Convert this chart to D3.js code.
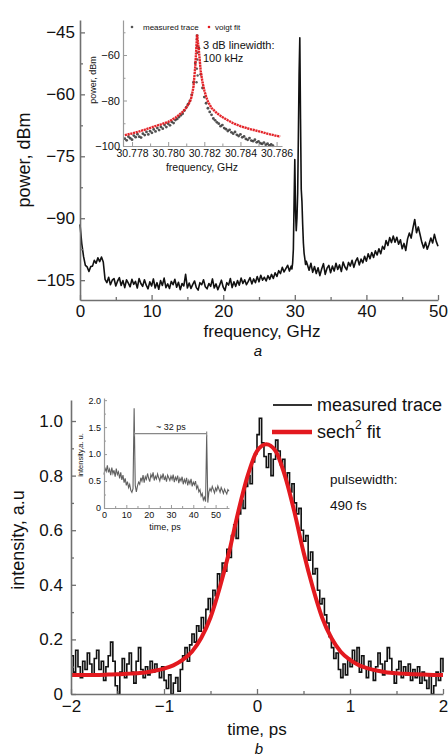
<!DOCTYPE html>
<html><head><meta charset="utf-8">
<script src="https://cdn.jsdelivr.net/npm/d3@7"></script>
<style>body{margin:0;background:#fff}svg{display:block;font-family:"Liberation Sans",Arial,sans-serif}</style>
</head><body><svg id="c" width="448" height="756"></svg>
<script>
// ---------- panel a: RF spectrum ----------
const specStep = 0.25;
const specLowStart = 0;
const specLow = [
 -91.5,-96.2,-99.3,-101.4,-101.8,-102.9,-101.7,-101.6,
 -100.2,-100.9,-99.6,-100.5,-99.4,-100.6,-104.8,-105.6,
 -104.3,-106.1,-105.0,-104.6,-106.4,-105.2,-104.4,-106.3,
 -105.1,-106.8,-104.9,-105.7,-106.6,-104.8,-106.0,-105.3,
 -106.9,-104.6,-105.8,-106.5,-104.9,-106.2,-107.1,-105.4,
 -106.4,-104.7,-106.9,-105.6,-107.2,-105.1,-106.3,-104.5,
 -106.8,-105.9,-107.0,-105.3,-106.1,-104.8,-106.7,-105.5,
 -107.3,-105.8,-106.4,-103.6,-106.9,-105.7,-107.0,-106.0,
 -105.2,-106.8,-107.4,-105.6,-106.1,-104.9,-106.6,-107.1,
 -105.8,-106.5,-104.7,-106.9,-105.9,-107.3,-106.2,-105.0,
 -106.7,-107.5,-105.6,-106.2,-104.6,-106.8,-105.4,-106.5,
 -105.1,-106.2,-104.5,-105.8,-104.9,-106.1,-105.3,-104.4,
 -105.9,-104.7,-105.6,-104.1,-105.4,-103.8,-105.0,-104.3,
 -105.2,-103.9,-104.8,-103.6,-104.6,-103.2,-104.1,-102.7,
 -103.4,-101.9,-103.0,-102.2,-101.4,-102.8,-101.6];
const specPeakFreq = [29.6,29.7,29.8,29.9,30.0,30.1,30.2,30.3,30.4,30.5,30.6,30.7,30.8,30.9,31.0,31.1,31.2,31.3,31.4,31.5,31.6];
const specPeakPow  = [-102.3,-100.8,-97.5,-86,-75.8,-88,-93,-90,-84,-70,-55,-46.3,-66,-83,-86,-91.5,-96,-98.5,-99.8,-101.2,-100.4];
const specHighStart = 31.75;
const specHigh = [
 -101.2,-102.6,-100.9,-103.1,-101.7,-103.4,-102.0,-103.9,
 -102.3,-101.0,-103.6,-102.1,-101.4,-103.2,-101.6,-102.8,
 -100.9,-102.4,-101.3,-102.9,-100.6,-101.8,-102.5,-100.7,
 -101.6,-100.2,-101.9,-100.4,-99.6,-101.3,-99.9,-100.8,
 -99.2,-100.4,-98.6,-99.8,-98.3,-99.5,-97.9,-98.9,
 -97.4,-98.6,-96.8,-97.5,-95.4,-96.6,-94.7,-95.9,
 -94.3,-95.8,-94.6,-96.3,-95.2,-97.4,-96.1,-97.8,
 -95.0,-93.6,-94.8,-92.4,-90.3,-93.5,-92.1,-94.0,
 -95.9,-97.2,-95.8,-97.5,-96.3,-94.8,-96.0,-93.9,
 -95.6,-96.8];
const aXTicks = [0,10,20,30,40,50];
const aXMinor = [5,15,25,35,45];
const aYTicks = [-45,-60,-75,-90,-105];
const aYMinor = [-52.5,-67.5,-82.5,-97.5];

// inset a: zoom on the 30.78 GHz line
const insStart = 30.7776, insStep = 0.0001;
const insMeas = [
 -96.8,-97.5,-95.9,-96.6,-97.2,-95.4,-96.1,-94.8,-95.9,-96.3,
 -94.6,-95.2,-93.8,-94.9,-93.5,-94.2,-92.7,-93.6,-92.1,-93.0,
 -91.6,-92.4,-90.8,-91.7,-90.2,-90.9,-89.4,-89.9,-88.6,-88.1,
 -87.3,-86.5,-85.8,-84.4,-83.0,-81.6,-80.2,-77.5,-72.0,-63.5,
 -51.5,
 -57.0,-68.5,-74.5,-78.5,-81.2,-83.4,-85.0,-86.3,-87.9,-88.7,
 -89.6,-90.2,-91.3,-90.8,-92.1,-92.6,-93.4,-92.9,-94.0,-94.6,
 -93.8,-95.1,-95.6,-94.9,-96.2,-95.8,-96.9,-97.3,-96.5,-97.6,
 -97.9,-97.2,-98.4,-98.0,-98.8,-99.1,-98.5,-99.4,-99.0,-99.7,
 -99.3,-99.9];
const insPeakFreq = [30.78158,30.78160,30.78162,30.78161,30.78159,30.78163,30.78157];
const insPeakPow  = [-53,-56,-59,-62,-66,-69,-72];
const fitFreq = [30.7776,30.7780,30.7784,30.7788,30.7792,30.7796,30.7800,30.7804,30.7808,30.7810,30.7812,30.7813,30.7814,30.7815,30.7816,30.7817,30.7818,30.7819,30.7820,30.7821,30.7822,30.7824,30.7827,30.7830,30.7833,30.7836,30.7840,30.7845,30.7851,30.7856,30.7862];
const fitPow  = [-95.2,-94.5,-93.6,-92.6,-91.5,-90.5,-89.4,-87.6,-85.0,-83.2,-80.6,-78.3,-74.0,-65.0,-51.0,-58.0,-67.0,-72.0,-75.5,-78.3,-80.5,-83.3,-85.6,-87.3,-88.7,-90.0,-91.3,-92.5,-93.7,-94.8,-95.9];
const insXTicks = [30.778,30.780,30.782,30.784,30.786];
const insXMinor = [30.779,30.781,30.783,30.785];
const insYTicks = [-60,-80,-100];
const insYMinor = [-50,-70,-90];

// ---------- panel b: autocorrelation ----------
const acStart = -2, acStep = 0.025;
const acMeas = [
 0.14,0.08,0.16,0.10,0.06,0.12,0.09,0.15,
 0.11,0.07,0.13,0.16,0.09,0.12,0.05,0.10,
 0.14,0.19,0.12,0.03,0.00,0.08,0.13,0.06,
 0.11,0.15,0.08,0.04,0.12,0.17,0.09,0.06,
 0.10,0.07,0.12,0.08,0.11,0.09,0.06,0.10,
 0.05,0.02,0.07,0.00,0.04,0.06,0.01,0.09,
 0.14,0.17,0.12,0.18,0.22,0.19,0.25,0.23,
 0.28,0.24,0.31,0.35,0.30,0.38,0.36,0.44,
 0.41,0.48,0.45,0.53,0.50,0.58,0.62,0.57,
 0.66,0.71,0.68,0.76,0.80,0.77,0.85,0.88,
 0.95,1.01,0.92,0.87,0.83,0.88,0.80,0.86,
 0.93,0.89,0.84,0.86,0.79,0.81,0.74,0.77,
 0.70,0.66,0.68,0.60,0.56,0.58,0.49,0.52,
 0.44,0.46,0.38,0.33,0.35,0.29,0.26,0.21,
 0.17,0.13,0.15,0.09,0.06,0.11,0.07,0.13,
 0.10,0.16,0.12,0.17,0.08,0.14,0.10,0.06,
 0.12,0.09,0.05,0.10,0.15,0.11,0.07,0.12,
 0.17,0.13,0.08,0.04,0.09,0.12,0.06,0.10,
 0.07,0.11,0.05,0.09,0.06,0.10,0.04,0.08,
 0.05,0.02,0.07,0.00,0.03,0.08,0.05,0.13,
 0.08];
const fitT = [-2.0,-1.9,-1.8,-1.7,-1.6,-1.5,-1.4,-1.3,-1.2,-1.1,-1.0,-0.9,-0.8,-0.7,-0.6,-0.5,-0.4,-0.3,-0.2,-0.1,0.0,0.1,0.2,0.3,0.4,0.5,0.6,0.7,0.8,0.9,1.0,1.1,1.2,1.3,1.4,1.5,1.6,1.7,1.8,1.9,2.0];
const fitI = [0.070,0.070,0.070,0.070,0.071,0.072,0.074,0.076,0.079,0.085,0.093,0.105,0.125,0.155,0.205,0.28,0.39,0.52,0.67,0.80,0.89,0.915,0.89,0.80,0.67,0.52,0.39,0.28,0.205,0.155,0.125,0.105,0.093,0.085,0.079,0.076,0.074,0.072,0.071,0.070,0.070];
const bXTicks = [-2,-1,0,1,2];
const bXMinor = [-1.5,-0.5,0.5,1.5];
const bYTicks = [0,0.2,0.4,0.6,0.8,1.0];
const bYMinor = [0.1,0.3,0.5,0.7,0.9];

// inset b: pulse train
const trStart = 0, trStep = 0.5;
const trMeas = [
 0.62,0.74,0.68,0.79,0.66,0.72,0.61,0.75,
 0.64,0.70,0.58,0.73,0.62,0.67,0.55,0.66,
 0.52,0.61,0.47,0.55,0.42,0.49,0.38,0.44,
 0.33,0.29,0.36,1.85,0.42,0.30,0.41,0.48,
 0.44,0.56,0.50,0.61,0.47,0.58,0.53,0.64,
 0.55,0.49,0.62,0.57,0.66,0.51,0.59,0.54,
 0.63,0.56,0.50,0.60,0.55,0.64,0.52,0.58,
 0.49,0.61,0.56,0.51,0.59,0.53,0.62,0.48,
 0.57,0.52,0.60,0.46,0.55,0.50,0.58,0.44,
 0.53,0.47,0.56,0.42,0.51,0.45,0.54,0.40,
 0.48,0.43,0.50,0.36,0.41,0.30,0.34,0.22,
 0.27,0.15,0.20,0.12,1.35,0.10,0.30,0.36,
 0.31,0.40,0.34,0.28,0.37,0.32,0.41,0.35,
 0.29,0.38,0.33,0.27,0.35,0.30,0.26,0.34,
 0.31];
const trXTicks = [0,10,20,30,40,50];
const trXMinor = [5,15,25,35,45,55];
const trYTicks = [0,0.5,1.0,1.5,2.0];
const trYMinor = [0.25,0.75,1.25,1.75];
const periodMarks = [13.5, 46];
const periodLevel = 1.38;

// ---------- drawing ----------
const svg = d3.select("#c");
const FONT = '"Liberation Sans", Arial, sans-serif';

function axes(xS, yS, o) {
  const x0 = xS.range()[0], y0 = yS.range()[0];
  const gxm = svg.append("g").attr("transform", `translate(0,${y0})`)
    .call(d3.axisBottom(xS).tickValues(o.xMinor).tickFormat(() => "").tickSizeInner(-o.mlen).tickSizeOuter(0));
  gxm.select(".domain").remove();
  const gym = svg.append("g").attr("transform", `translate(${x0},0)`)
    .call(d3.axisLeft(yS).tickValues(o.yMinor).tickFormat(() => "").tickSizeInner(-o.mlen).tickSizeOuter(0));
  gym.select(".domain").remove();
  const gx = svg.append("g").attr("transform", `translate(0,${y0})`)
    .call(d3.axisBottom(xS).tickValues(o.xTicks).tickFormat(o.xFmt).tickSizeInner(-o.len).tickSizeOuter(0).tickPadding(o.xPad));
  const gy = svg.append("g").attr("transform", `translate(${x0},0)`)
    .call(d3.axisLeft(yS).tickValues(o.yTicks).tickFormat(o.yFmt).tickSizeInner(-o.len).tickSizeOuter(0).tickPadding(o.yPad));
  [gxm, gym, gx, gy].forEach(g => {
    g.attr("font-family", FONT).attr("font-size", o.fs);
    g.selectAll(".tick line").attr("stroke", o.col).attr("stroke-width", o.tw);
    g.selectAll(".domain").attr("stroke", o.col).attr("stroke-width", o.dw);
    g.selectAll("text").attr("fill", "#111");
  });
  if (o.yFs) gy.attr("font-size", o.yFs);
}
function label(x, y, txt, fs, opts = {}) {
  const t = svg.append("text").attr("x", x).attr("y", y).text(txt)
    .attr("font-size", fs).attr("font-family", FONT).attr("fill", opts.fill || "#111")
    .attr("text-anchor", opts.anchor || "middle").attr("dominant-baseline", opts.base || "central");
  if (opts.rot) t.attr("transform", `rotate(-90,${x},${y})`);
  if (opts.italic) t.attr("font-style", "italic");
  return t;
}

// ===== Panel a =====
const ax = d3.scaleLinear().domain([0, 50]).range([80, 438]);
const ay = d3.scaleLinear().domain([-109.8, -42]).range([300, 20]);
const specPts = [];
specLow.forEach((p, i) => specPts.push([specLowStart + i * specStep, p]));
specPeakFreq.forEach((f, i) => specPts.push([f, specPeakPow[i]]));
specHigh.forEach((p, i) => specPts.push([specHighStart + i * specStep, p]));
svg.append("path").datum(specPts)
  .attr("d", d3.line().x(d => ax(d[0])).y(d => ay(d[1])))
  .attr("fill", "none").attr("stroke", "#111").attr("stroke-width", 1.6).attr("stroke-linejoin", "round");
axes(ax, ay, {xTicks: aXTicks, xMinor: aXMinor, yTicks: aYTicks, yMinor: aYMinor,
  xFmt: d3.format("d"), yFmt: d3.format("d"), len: 5, mlen: 3, xPad: 5, yPad: 5,
  fs: 17, col: "#707070", tw: 1.3, dw: 1.6});
label(262, 331.5, "frequency, GHz", 17);
label(24, 160, "power, dBm", 18, {rot: true});
label(258, 350, "a", 15, {italic: true});

// inset a
const ix = d3.scaleLinear().domain([30.7775, 30.7863]).range([123, 282]);
const iy = d3.scaleLinear().domain([-100, -44.6]).range([146, 20]);
svg.append("g").selectAll("circle").data(insMeas).join("circle")
  .attr("cx", (d, i) => ix(insStart + i * insStep)).attr("cy", d => iy(d))
  .attr("r", 1.4).attr("fill", "#333").attr("opacity", 0.85);
svg.append("g").selectAll("circle").data(insPeakPow).join("circle")
  .attr("cx", (d, i) => ix(insPeakFreq[i])).attr("cy", d => iy(d))
  .attr("r", 1.2).attr("fill", "#333").attr("opacity", 0.8);
svg.append("path").datum(fitFreq.map((f, i) => [f, fitPow[i]]))
  .attr("d", d3.line().x(d => ix(d[0])).y(d => iy(d[1])))
  .attr("fill", "none").attr("stroke", "#e3191f").attr("stroke-width", 2.4)
  .attr("stroke-dasharray", "2.2 0.6").attr("opacity", 0.95);
axes(ix, iy, {xTicks: insXTicks, xMinor: insXMinor, yTicks: insYTicks, yMinor: insYMinor,
  xFmt: d3.format(".3f"), yFmt: d3.format("d"), len: 4, mlen: 2.5, xPad: 4, yPad: 3,
  fs: 10.5, yFs: 11, col: "#9a9a9a", tw: 1, dw: 1.2});
label(202, 167, "frequency, GHz", 10.5);
label(93, 80, "power, dBm", 9, {rot: true});
svg.append("circle").attr("cx", 132).attr("cy", 27).attr("r", 1.3).attr("fill", "#555");
label(143, 27, "measured trace", 8, {anchor: "start"});
svg.append("circle").attr("cx", 209).attr("cy", 27).attr("r", 1.3).attr("fill", "#e3191f");
label(215, 27, "voigt fit", 8, {anchor: "start"});
label(203, 45, "3 dB linewidth:", 11, {anchor: "start"});
label(203, 58, "100 kHz", 11, {anchor: "start"});

// ===== Panel b =====
const bx = d3.scaleLinear().domain([-2, 2]).range([71, 443]);
const by = d3.scaleLinear().domain([0, 1.077]).range([694, 400]);
svg.append("path").datum(acMeas.map((v, i) => [acStart + i * acStep, v]))
  .attr("d", d3.line().curve(d3.curveStepAfter).x(d => bx(d[0])).y(d => by(d[1])))
  .attr("fill", "none").attr("stroke", "#111").attr("stroke-width", 1.6);
svg.append("path").datum(fitT.map((t, i) => [t, fitI[i]]))
  .attr("d", d3.line().curve(d3.curveMonotoneX).x(d => bx(d[0])).y(d => by(d[1])))
  .attr("fill", "none").attr("stroke", "#e3191f").attr("stroke-width", 4);
axes(bx, by, {xTicks: bXTicks, xMinor: bXMinor, yTicks: bYTicks, yMinor: bYMinor,
  xFmt: d3.format("d"), yFmt: d => d === 0 ? "0" : d3.format(".1f")(d), len: 5, mlen: 3, xPad: 6, yPad: 8,
  fs: 17, col: "#707070", tw: 1.3, dw: 1.6});
label(257, 729, "time, ps", 17);
label(18, 540, "intensity, a.u", 18, {rot: true});
label(259, 748, "b", 15, {italic: true});

// legend b
svg.append("line").attr("x1", 273).attr("x2", 312).attr("y1", 405).attr("y2", 405)
  .attr("stroke", "#333").attr("stroke-width", 2);
svg.append("line").attr("x1", 272).attr("x2", 312).attr("y1", 432).attr("y2", 432)
  .attr("stroke", "#e3191f").attr("stroke-width", 4.5);
label(317, 405, "measured trace", 18, {anchor: "start"});
const st = label(317, 432, "", 18, {anchor: "start"});
st.append("tspan").text("sech");
st.append("tspan").text("2").attr("font-size", 12).attr("dy", -7);
st.append("tspan").text(" fit").attr("dy", 7);
label(330, 479, "pulsewidth:", 13.5, {anchor: "start"});
label(330, 505, "490 fs", 13.5, {anchor: "start"});

// inset b
const tx = d3.scaleLinear().domain([0, 56]).range([104, 229]);
const ty = d3.scaleLinear().domain([0, 2.04]).range([508, 398]);
svg.append("path").datum(trMeas.map((v, i) => [trStart + i * trStep, v]))
  .attr("d", d3.line().x(d => tx(d[0])).y(d => ty(d[1])))
  .attr("fill", "none").attr("stroke", "#444").attr("stroke-width", 1.1).attr("opacity", 0.85);
svg.append("line").attr("x1", tx(periodMarks[0])).attr("x2", tx(periodMarks[1]))
  .attr("y1", ty(periodLevel)).attr("y2", ty(periodLevel)).attr("stroke", "#888").attr("stroke-width", 1.2);
periodMarks.forEach(m => svg.append("line").attr("x1", tx(m)).attr("x2", tx(m))
  .attr("y1", ty(periodLevel) - 2).attr("y2", ty(periodLevel) + 3).attr("stroke", "#888").attr("stroke-width", 1.2));
label(tx(30), ty(periodLevel) - 7, "~ 32 ps", 9);
axes(tx, ty, {xTicks: trXTicks, xMinor: trXMinor, yTicks: trYTicks, yMinor: trYMinor,
  xFmt: d3.format("d"), yFmt: d => d === 0 ? "0" : d3.format(".1f")(d), len: 3, mlen: 2, xPad: 4, yPad: 3,
  fs: 9, col: "#9a9a9a", tw: 1, dw: 1.2});
label(165, 527, "time, ps", 9);
label(80, 455, "intensity,a. u.", 7.5, {rot: true});
</script></body></html>
